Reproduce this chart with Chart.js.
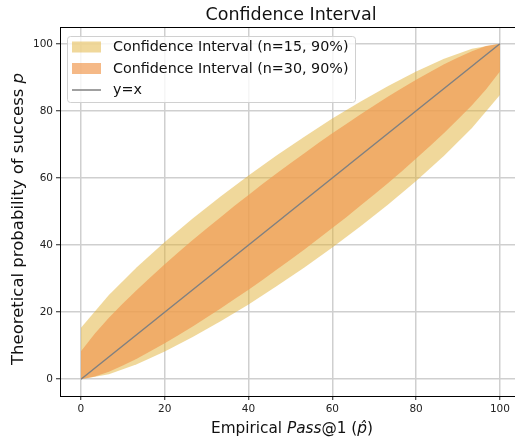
<!DOCTYPE html>
<html>
<head>
<meta charset="utf-8">
<script src="https://cdn.jsdelivr.net/npm/chart.js@4"></script>
<style>
  html, body { margin: 0; padding: 0; background: #fff; }
  #wrap { width: 515px; height: 441px; position: relative; }
</style>
</head>
<body>
<div id="wrap"><canvas id="ci"></canvas></div>
<script>
// empirical pass@1 positions (k/n * 100)
const x15 = [0, 6.67, 13.33, 20, 26.67, 33.33, 40, 46.67, 53.33, 60, 66.67, 73.33, 80, 86.67, 93.33, 100];
const lo15 = [0, 1.5, 4.5, 8.3, 12.6, 17.3, 22.3, 27.7, 33.3, 39.3, 45.5, 52.1, 59.1, 66.6, 74.9, 84.7];
const hi15 = [15.3, 25.1, 33.4, 40.9, 47.9, 54.5, 60.7, 66.7, 72.3, 77.7, 82.7, 87.4, 91.7, 95.5, 98.5, 100];

const x30 = [0, 3.33, 6.67, 10, 13.33, 16.67, 20, 23.33, 26.67, 30, 33.33, 36.67, 40, 43.33, 46.67, 50,
  53.33, 56.67, 60, 63.33, 66.67, 70, 73.33, 76.67, 80, 83.33, 86.67, 90, 93.33, 96.67, 100];
const lo30 = [0, 0.8, 2.2, 4.1, 6.1, 8.4, 10.7, 13.2, 15.7, 18.4, 21.1, 23.9, 26.7, 29.6, 32.6, 35.6,
  38.7, 41.9, 45.1, 48.3, 51.7, 55.1, 58.5, 62.1, 65.8, 69.5, 73.4, 77.5, 81.7, 86.4, 91.7];
const hi30 = [8.3, 13.6, 18.3, 22.6, 26.6, 30.5, 34.3, 37.9, 41.5, 44.9, 48.3, 51.7, 54.9, 58.2, 61.3, 64.4,
  67.4, 70.4, 73.3, 76.1, 78.9, 81.6, 84.3, 86.8, 89.3, 91.6, 93.9, 95.9, 97.8, 99.3, 100];

const diagX = [0, 100];
const diagY = [0, 100];

const xTicks = [0, 20, 40, 60, 80, 100];
const yTicks = [0, 20, 40, 60, 80, 100];

const labels = ['Confidence Interval (n=15, 90%)', 'Confidence Interval (n=30, 90%)', 'y=x'];

const YELLOW = 'rgba(225,178,55,0.5)';
const ORANGE = 'rgba(241,155,84,0.7)';
const GREY = '#808080';
const FONT = '"DejaVu Sans", sans-serif';

const pts = (xs, ys) => xs.map((x, i) => ({ x: x, y: ys[i] }));

// titles, top spine and legend drawn by hand (mixed italics, legend inside the axes)
const decor = {
  id: 'decor',
  afterDraw(chart) {
    const c = chart.ctx, a = chart.chartArea;
    c.save();
    c.strokeStyle = '#000';
    c.lineWidth = 1;
    c.beginPath();
    c.moveTo(a.left, a.top + 0.5);
    c.lineTo(a.right, a.top + 0.5);
    c.stroke();

    c.fillStyle = '#111';
    c.textBaseline = 'middle';
    c.textAlign = 'center';
    c.font = '17.5px ' + FONT;
    c.fillText('Confidence Interval', 291, 15);

    // x title
    const parts = [['Empirical ', false], ['Pass', true], ['@1 (', false], ['p\u0302', true], [')', false]];
    let fnt = it => (it ? 'italic ' : '') + '15.3px ' + FONT;
    let w = 0;
    parts.forEach(p => { c.font = fnt(p[1]); w += c.measureText(p[0]).width; });
    let px = 292 - w / 2;
    c.textAlign = 'left';
    parts.forEach(p => { c.font = fnt(p[1]); c.fillText(p[0], px, 429); px += c.measureText(p[0]).width; });

    // y title
    const yparts = [['Theoretical probability of success ', false], ['p', true]];
    fnt = it => (it ? 'italic ' : '') + '16.5px ' + FONT;
    w = 0;
    yparts.forEach(p => { c.font = fnt(p[1]); w += c.measureText(p[0]).width; });
    c.save();
    c.translate(19, 219);
    c.rotate(-Math.PI / 2);
    px = -w / 2;
    yparts.forEach(p => { c.font = fnt(p[1]); c.fillText(p[0], px, 0); px += c.measureText(p[0]).width; });
    c.restore();

    // legend
    const lx = 67.5, ly = 36.5, lw = 288, lh = 66;
    c.beginPath();
    c.roundRect(lx, ly, lw, lh, 3);
    c.fillStyle = 'rgba(255,255,255,0.8)';
    c.fill();
    c.strokeStyle = '#d0d0d0';
    c.stroke();
    const rows = [47, 68.5, 90];
    c.fillStyle = YELLOW;
    c.fillRect(72, rows[0] - 5.5, 29, 11);
    c.fillStyle = ORANGE;
    c.fillRect(72, rows[1] - 5.5, 29, 11);
    c.strokeStyle = GREY;
    c.lineWidth = 1.5;
    c.beginPath();
    c.moveTo(72, rows[2]);
    c.lineTo(101, rows[2]);
    c.stroke();
    c.fillStyle = '#111';
    c.font = '14.3px ' + FONT;
    labels.forEach((t, i) => c.fillText(t, 113, rows[i] + 0.5));
    c.restore();
  }
};

new Chart(document.getElementById('ci'), {
  type: 'line',
  data: {
    datasets: [
      { data: pts(x15, lo15), borderWidth: 0, pointRadius: 0, fill: false, order: 3 },
      { data: pts(x15, hi15), borderWidth: 0, pointRadius: 0, fill: 0, backgroundColor: YELLOW, order: 3 },
      { data: pts(x30, lo30), borderWidth: 0, pointRadius: 0, fill: false, order: 2 },
      { data: pts(x30, hi30), borderWidth: 0, pointRadius: 0, fill: 2, backgroundColor: ORANGE, order: 2 },
      { data: pts(diagX, diagY), borderColor: GREY, borderWidth: 1.5, pointRadius: 0, fill: false, order: 1 }
    ]
  },
  options: {
    responsive: true,
    maintainAspectRatio: false,
    animation: false,
    layout: { padding: { top: 27, left: 0, right: 0, bottom: 0 } },
    plugins: { legend: { display: false }, title: { display: false }, tooltip: { enabled: false } },
    scales: {
      x: {
        type: 'linear', min: -5, max: 103.6,
        afterBuildTicks: s => { s.ticks = xTicks.map(v => ({ value: v })); },
        afterFit: s => { s.height = 45; },
        ticks: { font: { family: FONT, size: 10.5 }, color: '#222', padding: 3, maxRotation: 0, autoSkip: false },
        grid: { color: '#cfcfcf', lineWidth: 1.5, tickLength: 4, tickColor: '#222', tickWidth: 1 },
        border: { color: '#000', width: 1 }
      },
      y: {
        type: 'linear', min: -5, max: 105,
        afterBuildTicks: s => { s.ticks = yTicks.map(v => ({ value: v })); },
        afterFit: s => { s.width = 60; },
        ticks: { font: { family: FONT, size: 10.5 }, color: '#222', padding: 3, autoSkip: false },
        grid: { color: '#cfcfcf', lineWidth: 1.5, tickLength: 4, tickColor: '#222', tickWidth: 1 },
        border: { color: '#000', width: 1 }
      }
    }
  },
  plugins: [decor]
});
</script>
</body>
</html>
